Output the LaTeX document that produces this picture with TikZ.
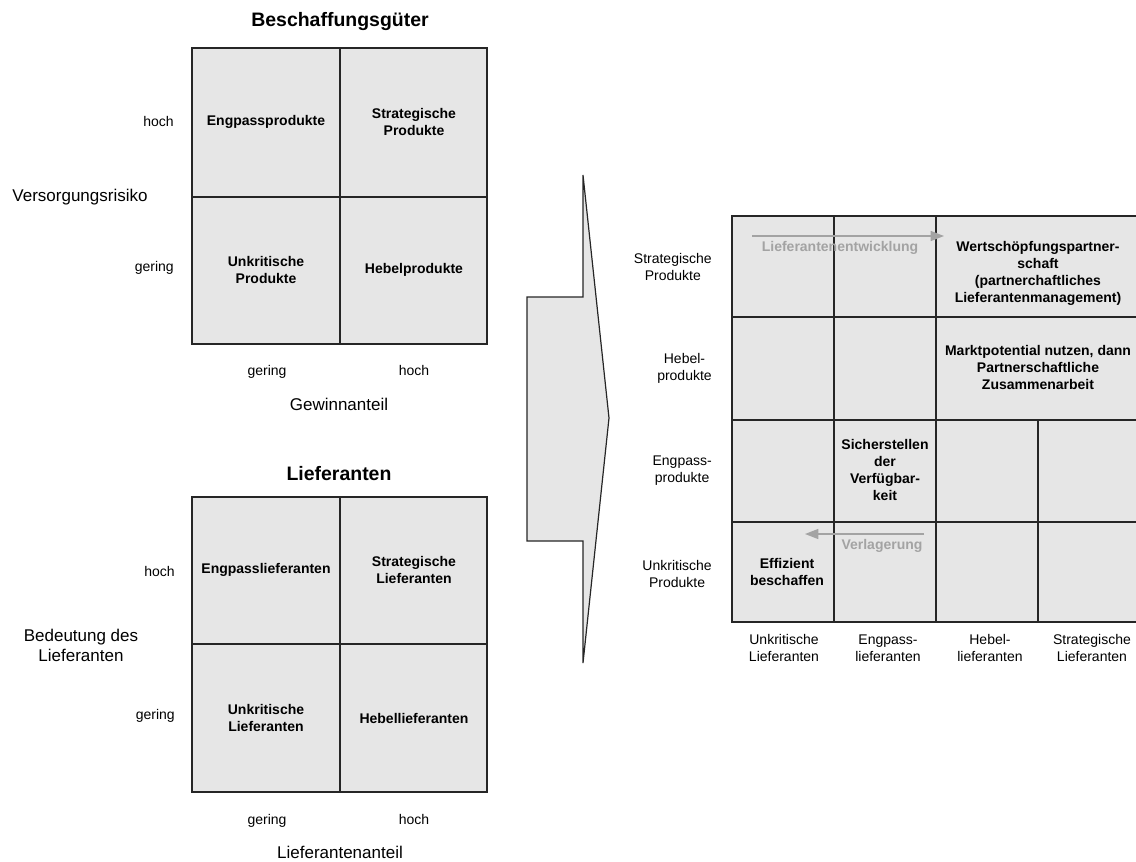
\documentclass[tikz,border=0pt]{standalone}
\usepackage{fontspec}
\setmainfont{Liberation Sans}
\usetikzlibrary{arrows.meta}
\definecolor{cellgray}{HTML}{E6E6E6}
\definecolor{hintgray}{HTML}{A3A3A3}
\begin{document}
\begin{tikzpicture}[x=0.75pt,y=-0.75pt,
  grid/.style={draw=black!85, line width=0.9pt},
  celltxt/.style={font=\fontsize{10.5}{12.75}\selectfont\bfseries, align=center, inner sep=0pt},
  lbl/.style={font=\fontsize{10.5}{12.75}\selectfont, align=center, inner sep=0pt},
  oneline/.style={text height=7.8pt, text depth=2.2pt},
  axis/.style={font=\fontsize{12.75}{15}\selectfont, align=center, inner sep=0pt},
  title/.style={font=\fontsize{14.6}{17}\selectfont\bfseries, inner sep=0pt},
  hint/.style={font=\fontsize{10.5}{12.75}\selectfont\bfseries, text=hintgray, inner sep=0pt},
  hintarrow/.style={draw=hintgray, line width=1.1pt, -{Triangle[length=10pt,width=7.5pt]}}
]
\clip (0,0) rectangle (1136,861);

% ---------- Portfolio: Beschaffungsgueter ----------
\fill[cellgray] (192,48) rectangle (487,344);
\draw[grid] (192,48) rectangle (487,344)
  (340,48) -- (340,344) (192,197) -- (487,197);
\node[title] (t1) at (340,22) {Beschaffungsgüter};
\node[celltxt] (p11) at (266,122) {Engpassprodukte};
\node[celltxt] (p12) at (414,122) {Strategische\\Produkte};
\node[celltxt] (p21) at (266,270) {Unkritische\\Produkte};
\node[celltxt] (p22) at (414,270) {Hebelprodukte};
\node[lbl, oneline, anchor=east] (py1) at (174,123) {hoch};
\node[lbl, oneline, anchor=east] (py2) at (174,268) {gering};
\node[axis] (pya) at (80,197) {Versorgungsrisiko};
\node[lbl, oneline] (px1) at (267,372) {gering};
\node[lbl, oneline] (px2) at (414,372) {hoch};
\node[axis] (pxa) at (339,404) {Gewinnanteil};

% ---------- Portfolio: Lieferanten ----------
\fill[cellgray] (192,497) rectangle (487,792);
\draw[grid] (192,497) rectangle (487,792)
  (340,497) -- (340,792) (192,644) -- (487,644);
\node[title] (t2) at (339,474) {Lieferanten};
\node[celltxt] (l11) at (266,570) {Engpasslieferanten};
\node[celltxt] (l12) at (414,570) {Strategische\\Lieferanten};
\node[celltxt] (l21) at (266,718) {Unkritische\\Lieferanten};
\node[celltxt] (l22) at (414,718) {Hebellieferanten};
\node[lbl, oneline, anchor=east] (ly1) at (175,573) {hoch};
\node[lbl, oneline, anchor=east] (ly2) at (175,716) {gering};
\node[axis] (lya) at (81,645) {Bedeutung des\\Lieferanten};
\node[lbl, oneline] (lx1) at (267,821) {gering};
\node[lbl, oneline] (lx2) at (414,821) {hoch};
\node[axis] (lxa) at (340,852) {Lieferantenanteil};

% ---------- Transition arrow ----------
\draw[fill=cellgray, draw=black!85, line width=0.9pt]
  (583,175) -- (609,418) -- (583,663) -- (583,541) -- (527,541)
  -- (527,297) -- (583,297) -- cycle;

% ---------- Combined matrix ----------
\fill[cellgray] (732,216) rectangle (1140,622);
\draw[grid] (732,216) rectangle (1140,622)
  (732,317) -- (1140,317) (732,420) -- (1140,420) (732,522) -- (1140,522)
  (834,216) -- (834,622) (936,216) -- (936,622) (1038,420) -- (1038,622);

\node[lbl, anchor=east] (r1) at (712,267) {Strategische\\Produkte};
\node[lbl, anchor=east] (r2) at (712,368) {Hebel-\\produkte};
\node[lbl, anchor=east] (r3) at (712,471) {Engpass-\\produkte};
\node[lbl, anchor=east] (r4) at (712,574) {Unkritische\\Produkte};

\node[lbl] (c1) at (784,648) {Unkritische\\Lieferanten};
\node[lbl] (c2) at (888,648) {Engpass-\\lieferanten};
\node[lbl] (c3) at (990,648) {Hebel-\\lieferanten};
\node[lbl] (c4) at (1092,648) {Strategische\\Lieferanten};

\node[celltxt] (m1) at (1038,273) {Wertschöpfungspartner-\\schaft\\(partnerchaftliches\\Lieferantenmanagement)};
\node[celltxt] (m2) at (1038,367) {Marktpotential nutzen, dann\\Partnerschaftliche\\Zusammenarbeit};
\node[celltxt] (m3) at (885,470) {Sicherstellen\\der\\Verfügbar-\\keit};
\node[celltxt] (m4) at (787,572) {Effizient\\beschaffen};

% development and shift arrows
\coordinate (dev0) at (752,236);
\coordinate (dev1) at (944,236);
\draw[hintarrow] (dev0) -- (dev1);
\node[hint] (devt) at (840,248) {Lieferantenentwicklung};
\coordinate (shf0) at (924,534);
\coordinate (shf1) at (805,534);
\draw[hintarrow] (shf0) -- (shf1);
\node[hint] (shft) at (882,546) {Verlagerung};
\end{tikzpicture}
\end{document}
